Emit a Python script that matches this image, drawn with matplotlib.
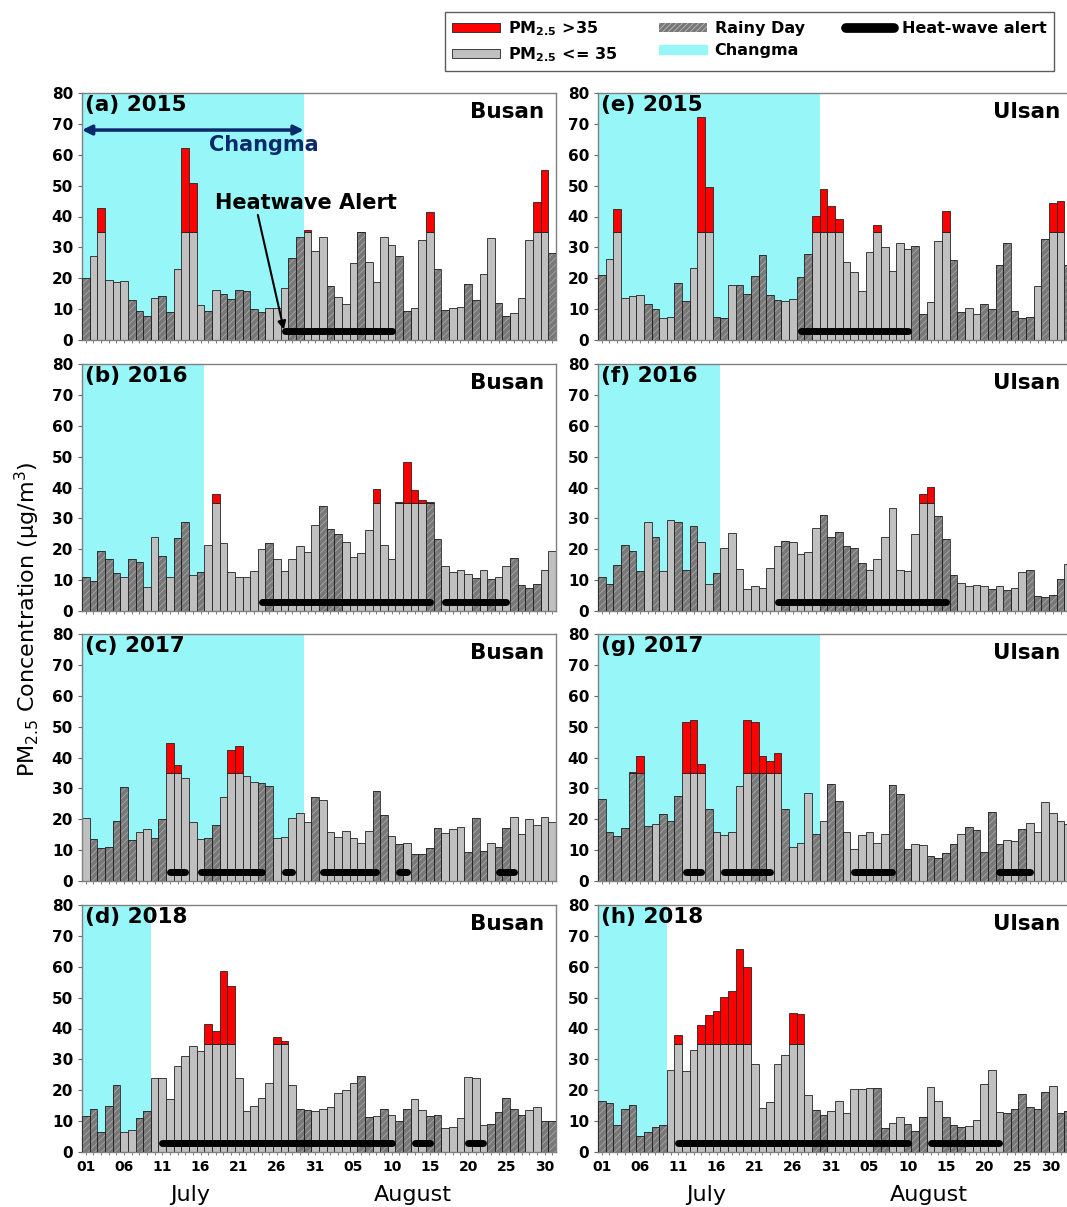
import matplotlib.pyplot as plt
import numpy as np
from matplotlib.patches import Patch
from matplotlib.lines import Line2D

plt.rcParams['font.family'] = ['DejaVu Sans']
plt.rcParams['hatch.linewidth'] = 0.6

# days: 1..31 July, 32..62 August
days = np.arange(1, 63)
tick_days = [1, 6, 11, 16, 21, 26, 31, 36, 41, 46, 51, 56, 61]
tick_labels = ['01', '06', '11', '16', '21', '26', '31', '05', '10', '15', '20', '25', '30']

# daily PM2.5, rainy day flags (1 = rain), last day of Changma, heat-wave alert periods
busan_2015 = [20, 27.3, 42.8, 19.3, 18.9, 19.1, 13.1, 9.5, 7.8, 13.5,
              14.4, 9.1, 23, 62.1, 50.9, 11.2, 9.3, 16.1, 15, 13.3,
              16.1, 15.9, 10, 9.2, 10.3, 10.4, 16.8, 26.5, 33.2, 35.6,
              28.9, 33.4, 17.6, 13.8, 11.7, 25, 35.1, 25.2, 18.7, 33.4,
              30.8, 27.1, 9.5, 10.4, 32.3, 41.5, 23.1, 9.8, 10.4, 10.7,
              18, 13, 21.4, 32.9, 12, 7.8, 8.6, 13.7, 32.4, 44.8,
              54.9, 28.3]
busan_2015_rain = ('1000001110' '1100001011' '1111000110' '0010001000'
                   '0110001100' '1100110000' '01')
busan_2015_changma = 29
busan_2015_heat = [(27, 41)]

ulsan_2015 = [21, 26.3, 42.5, 13.7, 14.3, 14.5, 11.7, 10, 7.1, 7.6,
              18.3, 12.5, 23.2, 72.2, 49.5, 7.6, 7.1, 17.9, 17.7, 14.9,
              20.7, 27.5, 14.5, 13, 12.5, 13.2, 20.3, 27.8, 40.1, 48.8,
              43.4, 39.2, 25.4, 22.1, 15.9, 28.4, 37.4, 30.1, 22.4, 31.5,
              29.4, 30.5, 8.3, 12.4, 32.1, 41.7, 25.8, 9.1, 10.3, 8.5,
              11.7, 10, 24.4, 31.4, 9.3, 7.1, 7.3, 17.4, 32.7, 44.3,
              44.9, 24.3]
ulsan_2015_rain = ('1000001100' '1100011011' '1111001100' '0000000000'
                   '0110001100' '1111111010' '01')
ulsan_2015_changma = 29
ulsan_2015_heat = [(27, 41)]

busan_2016 = [11.1, 9.6, 19.5, 16.7, 12.4, 11.1, 16.8, 15.8, 7.9, 24,
              17.9, 10.9, 23.5, 28.9, 11.6, 12.7, 21.4, 38, 22, 12.7,
              10.9, 10.9, 13, 20, 22.1, 16.8, 13, 16.8, 21, 19,
              27.8, 34, 26.6, 24.9, 22.2, 17.4, 18.9, 26.3, 39.5, 21.4,
              17, 35.2, 48.2, 39.3, 36.1, 35.4, 23.2, 14.7, 12.5, 13.2,
              12, 10.7, 13.2, 10.3, 11.1, 14.5, 17.2, 8.5, 7.3, 8.9,
              13.4, 19.5]
busan_2016_rain = ('1111101100' '1011010000' '0000100000' '0111000000'
                   '0000011000' '0101001111' '00')
busan_2016_changma = 16
busan_2016_heat = [(24, 46), (48, 56)]

ulsan_2016 = [11.1, 8.9, 14.8, 21.3, 19.5, 13, 28.9, 24, 13, 29.5,
              28.9, 13.4, 27.5, 22.4, 8.9, 12.3, 20.3, 25.3, 13.6, 7,
              8, 7.6, 13.9, 21, 22.7, 22.5, 18.3, 19, 27, 31,
              23.9, 25.6, 21, 20.3, 15.6, 13.4, 16.8, 24.1, 33.4, 13.2,
              12.9, 24.8, 37.8, 40.3, 30.8, 23.2, 11.8, 9.2, 8.1, 8.5,
              8, 7, 8, 6.9, 7.3, 12.5, 13.3, 5, 4.6, 5.3,
              10.3, 15.3]
ulsan_2016_rain = ('1111110100' '1110010000' '0000100001' '1111100000'
                   '0000111000' '0101001111' '10')
ulsan_2016_changma = 16
ulsan_2016_heat = [(24, 46)]

busan_2017 = [20.3, 13.6, 10.6, 11, 19.3, 30.6, 13.2, 16, 17, 13.9,
              20, 44.8, 37.6, 33.3, 19.1, 13.5, 13.8, 18, 27.1, 42.4,
              43.6, 34.1, 32.1, 31.6, 30.7, 13.8, 14.4, 20.3, 21.9, 19,
              27.2, 26.3, 15.8, 14.3, 16.3, 13.9, 12.4, 16.2, 29.2, 21.3,
              14.6, 11.9, 12.2, 8.7, 8.7, 10.6, 17.3, 15.7, 16.7, 17.5,
              9.3, 20.3, 9.6, 12.3, 10.9, 17.1, 20.6, 15.1, 20.1, 18.1,
              20.7, 19.1]
busan_2017_rain = ('0111111001' '1000001100' '0001100000' '1000000011'
                   '0101111000' '1110110000' '00')
busan_2017_changma = 29
busan_2017_heat = [(12, 14), (16, 24), (27, 28), (32, 39), (42, 43), (55, 57)]

ulsan_2017 = [26.7, 16, 14.7, 17.1, 35.2, 40.5, 17.8, 18.4, 21.6, 19.5,
              27.4, 51.5, 52.3, 37.8, 23.3, 15.8, 14.8, 15.8, 30.9, 52.2,
              51.6, 40.4, 38.8, 41.6, 23.3, 11, 12.4, 28.6, 15.1, 19.5,
              31.5, 25.9, 15.9, 10.5, 15, 16, 12.3, 15.1, 31.1, 28.1,
              10.5, 12, 11.8, 8.2, 7.6, 9.1, 12.1, 15.3, 17.5, 16.5,
              9.5, 22.5, 11.9, 13.3, 12.9, 16.7, 18.7, 15.9, 25.6, 22.1,
              19.4, 18.4]
ulsan_2017_rain = ('1111111011' '1000100000' '1100100010' '1100000011'
                   '1001111011' '1110010000' '00')
ulsan_2017_changma = 29
ulsan_2017_heat = [(12, 14), (17, 23), (34, 39), (53, 57)]

busan_2018 = [11.6, 13.8, 6.4, 14.9, 21.6, 6.5, 7.1, 11, 13.3, 24.1,
              24.1, 17.1, 27.8, 31, 34.4, 32.7, 41.6, 39.1, 58.6, 53.9,
              24.1, 13.4, 14.9, 17.4, 22.2, 37.4, 35.9, 21.8, 13.9, 13.5,
              13.4, 14, 14.7, 19.2, 20.1, 22.5, 24.7, 11.4, 11.7, 13.9,
              12, 10, 13.9, 17.1, 13.5, 11.6, 11.9, 7.9, 8, 11.1,
              24.2, 24, 8.6, 9.1, 12.9, 17.4, 13.9, 12, 13.5, 14.5,
              9.9, 9.9]
busan_2018_rain = ('1111100110' '0000000000' '0000000011' '0000001101'
                   '0110011000' '0001111100' '11')
busan_2018_changma = 9
busan_2018_heat = [(11, 41), (44, 46), (51, 53)]

ulsan_2018 = [16.5, 15.9, 8.6, 14, 15.3, 5.2, 6.5, 8.2, 8.7, 26.7,
              38, 26.3, 33, 41, 44.3, 45.7, 50.3, 52.1, 65.8, 60,
              28.5, 14.4, 16.2, 28.5, 31.5, 45, 44.7, 18.3, 13.5, 12,
              13.2, 16.4, 12.7, 20.5, 20.4, 20.8, 20.8, 7.7, 9.5, 11.4,
              9.1, 6.9, 11.3, 21, 16.5, 11.3, 8.6, 8.1, 8.5, 10.4,
              22, 26.6, 12.9, 12.5, 13.8, 18.8, 14.7, 13.8, 19.4, 21.4,
              12.5, 13.4]
ulsan_2018_rain = ('1111111110' '0000000000' '0000000011' '0000001100'
                   '1110011100' '0001111110' '11')
ulsan_2018_changma = 9
ulsan_2018_heat = [(11, 41), (44, 53)]

LIMIT = 35
RED = '#ff0000'
LIGHT = '#c0c0c0'
DARK = '#787878'
CYAN = '#97f6f8'
NAVY = '#0b2a6b'

fig = plt.figure(figsize=(10.67, 12.07), dpi=100)

left_x, right_x, ax_w = 82 / 1067, 598 / 1067, 474 / 1067
ax_h = 247 / 1207
row_bottoms = [1 - 340 / 1207, 1 - 611 / 1207, 1 - 881 / 1207, 1 - 1152 / 1207]


def draw_panel(ax, values, rain, changma, heat, label, city, bottom_row):
    v = np.array(values)
    wet = np.array([c == '1' for c in rain])
    low = np.minimum(v, LIMIT)
    high = np.maximum(v - LIMIT, 0)

    ax.axvspan(0.5, changma + 0.5, color=CYAN, lw=0, zorder=0)

    ax.bar(days[~wet], low[~wet], width=1, color=LIGHT, edgecolor='#222222', linewidth=0.6, zorder=2)
    ax.bar(days[wet], low[wet], width=1, color=DARK, hatch='/////', edgecolor='#a8a8a8', linewidth=0, zorder=2)
    ax.bar(days[wet], low[wet], width=1, fill=False, edgecolor='#222222', linewidth=0.6, zorder=3)
    over = high > 0
    ax.bar(days[over], high[over], bottom=LIMIT, width=1, color=RED, edgecolor='#222222', linewidth=0.6, zorder=3)

    for a, b in heat:
        ax.plot([a, b], [3, 3], color='black', lw=5, solid_capstyle='round', zorder=4)

    ax.set_xlim(0.5, 62.5)
    ax.set_ylim(0, 80)
    ax.set_yticks(range(0, 81, 10))
    ax.set_xticks(tick_days)
    ax.set_xticks(days, minor=True)
    ax.tick_params(axis='y', labelsize=11, length=3, width=0.8, color='#666666')
    ax.tick_params(axis='x', which='both', length=2, width=0.6, color='#666666')
    for t in ax.get_yticklabels():
        t.set_fontweight('bold')
    if bottom_row:
        ax.set_xticklabels(tick_labels, fontsize=10, fontweight='bold')
        ax.text(14.6, -0.175, 'July', transform=ax.get_xaxis_transform(),
                ha='center', va='center', fontsize=16)
        ax.text(43.8, -0.175, 'August', transform=ax.get_xaxis_transform(),
                ha='center', va='center', fontsize=16)
    else:
        ax.set_xticklabels([])
    for s in ax.spines.values():
        s.set_color('#808080')
        s.set_linewidth(1)

    ax.text(0.006, 0.95, label, transform=ax.transAxes, ha='left', va='center',
            fontsize=15.5, fontweight='bold', zorder=5)
    ax.text(0.975, 0.925, city, transform=ax.transAxes, ha='right', va='center',
            fontsize=15.5, fontweight='bold', zorder=5)


busan = [(busan_2015, busan_2015_rain, busan_2015_changma, busan_2015_heat, '(a) 2015'),
         (busan_2016, busan_2016_rain, busan_2016_changma, busan_2016_heat, '(b) 2016'),
         (busan_2017, busan_2017_rain, busan_2017_changma, busan_2017_heat, '(c) 2017'),
         (busan_2018, busan_2018_rain, busan_2018_changma, busan_2018_heat, '(d) 2018')]
ulsan = [(ulsan_2015, ulsan_2015_rain, ulsan_2015_changma, ulsan_2015_heat, '(e) 2015'),
         (ulsan_2016, ulsan_2016_rain, ulsan_2016_changma, ulsan_2016_heat, '(f) 2016'),
         (ulsan_2017, ulsan_2017_rain, ulsan_2017_changma, ulsan_2017_heat, '(g) 2017'),
         (ulsan_2018, ulsan_2018_rain, ulsan_2018_changma, ulsan_2018_heat, '(h) 2018')]

axes_a = None
for i in range(4):
    axl = fig.add_axes([left_x, row_bottoms[i], ax_w, ax_h])
    vals, rain, ch, hw, lab = busan[i]
    draw_panel(axl, vals, rain, ch, hw, lab, 'Busan', i == 3)
    if i == 0:
        axes_a = axl
    axr = fig.add_axes([right_x, row_bottoms[i], ax_w, ax_h])
    vals, rain, ch, hw, lab = ulsan[i]
    draw_panel(axr, vals, rain, ch, hw, lab, 'Ulsan', i == 3)
    if i == 3:
        # the right panel runs past the page edge; keep the last day label readable
        axr.get_xticklabels()[-1].set_horizontalalignment('right')

# annotations in panel (a)
axes_a.annotate('', xy=(0.5, 68), xytext=(29.5, 68),
                arrowprops=dict(arrowstyle='<|-|>', color=NAVY, lw=2.5, mutation_scale=14,
                                shrinkA=0, shrinkB=0), zorder=5)
axes_a.text(24.3, 63.3, 'Changma', ha='center', va='center', color=NAVY,
            fontsize=15, fontweight='bold', zorder=5)
axes_a.text(17.9, 44.5, 'Heatwave Alert', ha='left', va='center',
            fontsize=15, fontweight='bold', zorder=5)
axes_a.annotate('', xy=(26.9, 3.4), xytext=(23.5, 40.5),
                arrowprops=dict(arrowstyle='-|>', color='black', lw=1.5, mutation_scale=12,
                                shrinkA=0, shrinkB=0), zorder=5)

fig.text(0.026, 0.487, 'PM$_{2.5}$ Concentration (μg/m$^3$)', rotation=90,
         ha='center', va='center', fontsize=16)

handles = [Patch(facecolor=RED, edgecolor='#222222', lw=0.6),
           Patch(facecolor=LIGHT, edgecolor='#222222', lw=0.6),
           Patch(facecolor=DARK, edgecolor='#bbbbbb', hatch='//////', lw=0),
           Patch(facecolor=CYAN, edgecolor=CYAN),
           Line2D([], [], color='black', lw=7, solid_capstyle='round')]
labels = ['PM$_\\mathbf{2.5}$ >35', 'PM$_\\mathbf{2.5}$ <= 35', 'Rainy Day', 'Changma', 'Heat-wave alert']
leg = fig.legend(handles, labels, loc='upper left', bbox_to_anchor=(0.417, 0.99), ncol=3,
                 frameon=True, fancybox=False, edgecolor='#333333', handlelength=3.0,
                 handleheight=0.5, columnspacing=2.6, handletextpad=0.5,
                 borderaxespad=0, borderpad=0.45, labelspacing=0.45,
                 prop={'weight': 'bold', 'size': 11.5})
leg.get_frame().set_linewidth(1)

fig.savefig('out.png', dpi=100)
